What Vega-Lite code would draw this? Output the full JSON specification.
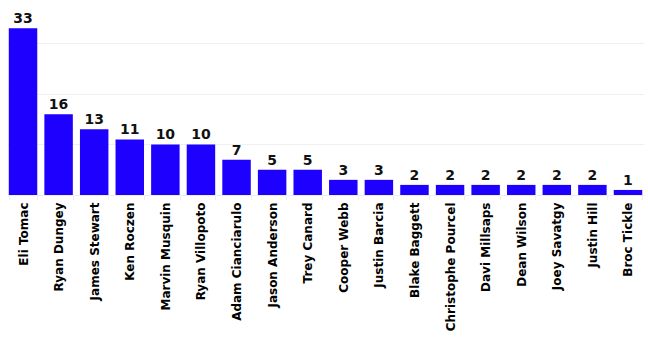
{
  "$schema": "https://vega.github.io/schema/vega-lite/v6.json",
  "width": 637,
  "height": 192,
  "autosize": "none",
  "padding": {"left": 7, "top": 3, "right": 4, "bottom": 146},
  "background": "white",
  "config": {"view": {"stroke": null}, "font": "DejaVu Sans"},
  "data": {"values": [
    {"rider": "Eli Tomac", "wins": 33},
    {"rider": "Ryan Dungey", "wins": 16},
    {"rider": "James Stewart", "wins": 13},
    {"rider": "Ken Roczen", "wins": 11},
    {"rider": "Marvin Musquin", "wins": 10},
    {"rider": "Ryan Villopoto", "wins": 10},
    {"rider": "Adam Cianciarulo", "wins": 7},
    {"rider": "Jason Anderson", "wins": 5},
    {"rider": "Trey Canard", "wins": 5},
    {"rider": "Cooper Webb", "wins": 3},
    {"rider": "Justin Barcia", "wins": 3},
    {"rider": "Blake Baggett", "wins": 2},
    {"rider": "Christophe Pourcel", "wins": 2},
    {"rider": "Davi Millsaps", "wins": 2},
    {"rider": "Dean Wilson", "wins": 2},
    {"rider": "Joey Savatgy", "wins": 2},
    {"rider": "Justin Hill", "wins": 2},
    {"rider": "Broc Tickle", "wins": 1}
  ]},
  "encoding": {
    "x": {"field": "rider", "type": "nominal", "sort": null,
      "scale": {"paddingInner": 0.2, "paddingOuter": 0.05},
      "axis": {"title": null, "labelAngle": -90, "labelFontWeight": "bold", "labelFontSize": 12, "labelColor": "#000", "labelPadding": 2, "domainColor": "#eeeeee", "tickColor": "#eeeeee", "tickSize": 5, "tickBand": "extent"}},
    "y": {"field": "wins", "type": "quantitative",
      "scale": {"domain": [0, 38], "nice": false},
      "axis": {"title": null, "labels": false, "ticks": false, "domain": false, "values": [10, 20, 30], "gridColor": "#f0f0f0"}}
  },
  "layer": [
    {"mark": {"type": "bar", "color": "#1e00ff"}},
    {"mark": {"type": "text", "baseline": "alphabetic", "dy": -5, "fontSize": 14, "fontWeight": "bold", "color": "#111"},
     "encoding": {"text": {"field": "wins", "type": "quantitative"}}}
  ]
}
